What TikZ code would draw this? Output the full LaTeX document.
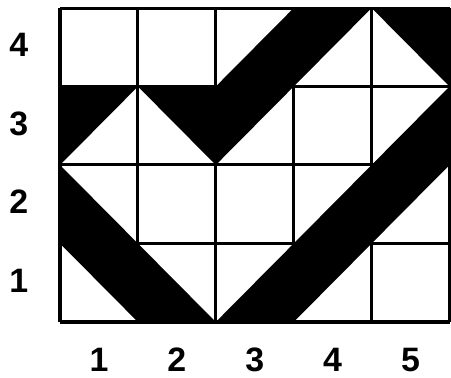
\documentclass[tikz,border=0pt]{standalone}
\usepackage{fontspec}
\setmainfont{Liberation Sans}
\begin{document}
\begin{tikzpicture}[x=77.9bp,y=78.5bp,
  band/.style={fill=black,draw=none},
  gridline/.style={line width=3bp,black,xstep=77.9bp,ystep=78.5bp},
  lab/.style={font=\bfseries\fontsize{34}{34}\selectfont,inner sep=0pt}]
\useasboundingbox (-60bp,-56bp) rectangle (391bp,322bp);
\begin{scope}
\clip (0,0) rectangle (5,4);
\fill[band] (0,2) -- (2,0) -- (1,0) -- (0,1) -- cycle;
\fill[band] (2,0) -- (3,0) -- (5,2) -- (5,3) -- cycle;
\fill[band] (0,3) -- (2,3) -- (3,4) -- (4,4) -- (3,3) -- (2,2) -- (1,3) -- (0,2) -- cycle;
\fill[band] (4,4) -- (5,4) -- (5,3) -- cycle;
\end{scope}
\draw[gridline] (0,0) grid (5,4);
\foreach \j in {1,...,4} {
  \node[lab] (r\j) at (-0.53,\j-0.47) {\j};
}
\foreach \i in {1,...,5} {
  \node[lab] (c\i) at (\i-0.5,-0.48) {\i};
}
\end{tikzpicture}
\end{document}
